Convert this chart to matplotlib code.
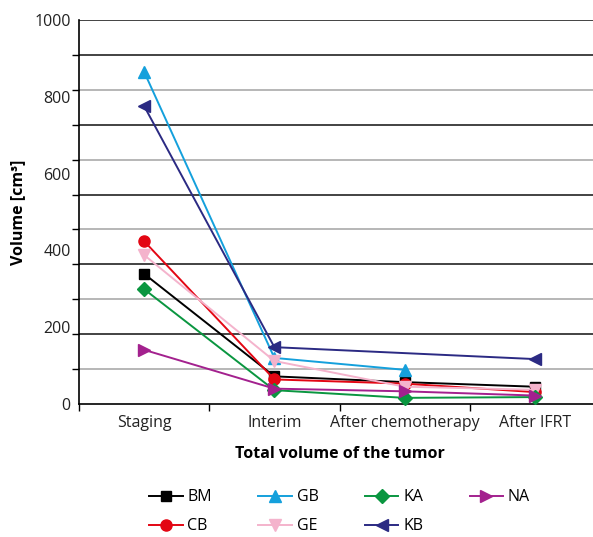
import numpy as np
import matplotlib.pyplot as plt

plt.rcParams['font.family'] = ['Open Sans', 'DejaVu Sans']

stages = ['Staging', 'Interim', 'After chemotherapy', 'After IFRT']

BM = [339, 72, 57, 45]
CB = [424, 64, 53, 31]
GB = [865, 120, 89, np.nan]
GE = [388, 112, 45, 37]
KA = [299, 36, 16, 18]
KB = [776, 148, np.nan, 117]
NA = [141, 40, 33, 22]

series = [
    ('BM', BM, 'black', 's'),
    ('CB', CB, '#e30613', 'o'),
    ('GB', GB, '#14a0dc', '^'),
    ('GE', GE, '#f4b3cc', 'v'),
    ('KA', KA, '#0a9640', 'D'),
    ('KB', KB, '#2b2a83', '<'),
    ('NA', NA, '#a3218e', '>'),
]

fig = plt.figure(figsize=(5.93, 5.37), dpi=100)
ax = fig.add_axes([79/593, 1-404/537, 521/593, 384/537])

x = np.arange(len(stages))

# horizontal grid, 11 equal steps, alternating black / grey
grid_pos = np.arange(1, 12) * 1000 / 11
for k, g in enumerate(grid_pos):
    c = '#aaaaaa' if k % 2 == 0 and k < 10 else '#222222'
    ax.axhline(g, color=c, lw=1.2, zorder=1)

for name, vals, col, mk in series:
    v = np.array(vals, dtype=float)
    ok = ~np.isnan(v)
    ms = 7 if mk in ('s', 'D') else 8
    ax.plot(x[ok], v[ok], color=col, lw=1.4, marker=mk, ms=ms,
            label=name, zorder=3, clip_on=False)

ax.set_xlim(-0.5, 3.5)
ax.set_ylim(0, 1000)

ax.set_xticks(x)
ax.set_xticklabels(stages)
ax.set_xticks(np.arange(-0.5, 4, 1), minor=True)
ax.tick_params(axis='x', which='major', length=0, pad=8, labelsize=11.5, colors='#222222')
ax.tick_params(axis='x', which='minor', length=5, width=1, direction='out')

ax.set_yticks(np.arange(0, 1001, 200))
ax.set_yticks(np.concatenate([[0], grid_pos]), minor=True)
ax.tick_params(axis='y', which='major', length=0, pad=6, labelsize=11.5, colors='#222222')
ax.tick_params(axis='y', which='minor', length=5, width=1, direction='out')

for s in ['top', 'right']:
    ax.spines[s].set_visible(False)
ax.spines['left'].set_linewidth(1.2)
ax.spines['bottom'].set_linewidth(1.2)

ax.set_xlabel('Total volume of the tumor', fontsize=11.5, fontweight='bold', labelpad=11)
ax.set_ylabel('Volume [cm³]', fontsize=11.5, fontweight='bold', labelpad=6)

ax.legend(loc='upper center', bbox_to_anchor=(0.5, -0.185), ncol=4, frameon=False,
          fontsize=11.5, handlelength=2.1, handletextpad=0.3, columnspacing=2.9,
          labelspacing=0.8)

fig.savefig('out.png', dpi=100)
